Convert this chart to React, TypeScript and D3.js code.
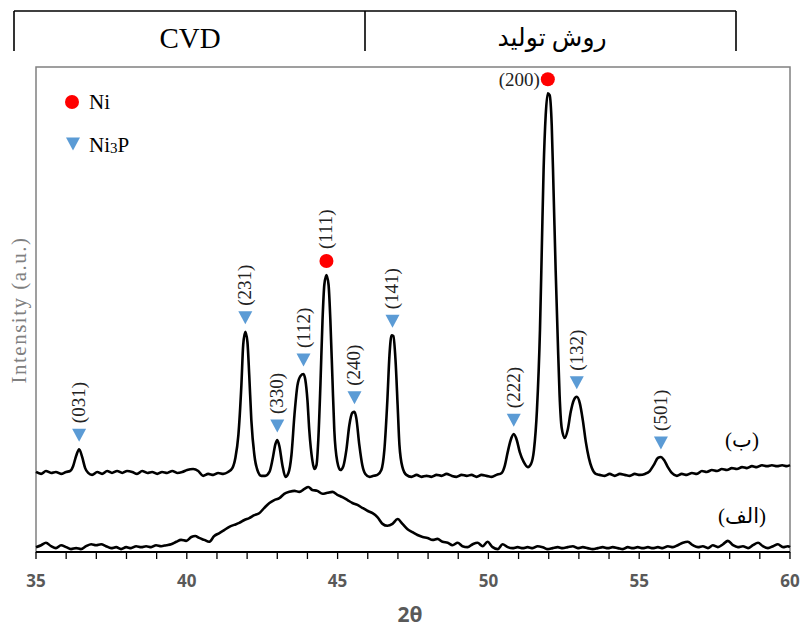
import { useEffect, useRef } from "react";
import * as d3 from "d3";

// sample (ب): 2θ positions and intensity (a.u.)
const thetaB = [35.0, 35.17, 35.33, 35.5, 35.66, 35.83, 36.0, 36.13, 36.23, 36.33, 36.43, 36.53, 36.63, 36.73, 36.86, 37.03, 37.19, 37.36, 37.52, 37.69, 37.86, 38.02, 38.19, 38.35, 38.52, 38.69, 38.85, 39.02, 39.18, 39.35, 39.52, 39.68, 39.85, 40.01, 40.21, 40.38, 40.54, 40.71, 40.88, 41.04, 41.21, 41.37, 41.51, 41.61, 41.71, 41.81, 41.87, 41.94, 42.01, 42.07, 42.14, 42.24, 42.34, 42.47, 42.6, 42.74, 42.84, 42.94, 43.0, 43.07, 43.17, 43.27, 43.37, 43.47, 43.57, 43.67, 43.77, 43.87, 43.93, 44.0, 44.06, 44.16, 44.23, 44.3, 44.36, 44.43, 44.5, 44.56, 44.63, 44.7, 44.76, 44.83, 44.89, 44.99, 45.09, 45.19, 45.29, 45.39, 45.49, 45.56, 45.62, 45.72, 45.82, 45.92, 46.06, 46.19, 46.32, 46.45, 46.55, 46.65, 46.72, 46.79, 46.85, 46.92, 46.99, 47.05, 47.15, 47.28, 47.45, 47.62, 47.78, 47.95, 48.11, 48.28, 48.45, 48.61, 48.78, 48.94, 49.11, 49.28, 49.44, 49.61, 49.77, 49.94, 50.11, 50.27, 50.44, 50.54, 50.64, 50.74, 50.84, 50.94, 51.04, 51.17, 51.31, 51.41, 51.51, 51.61, 51.71, 51.77, 51.83, 51.9, 51.97, 52.03, 52.1, 52.16, 52.23, 52.3, 52.36, 52.43, 52.53, 52.63, 52.73, 52.83, 52.93, 53.03, 53.13, 53.23, 53.33, 53.43, 53.56, 53.69, 53.86, 54.02, 54.19, 54.36, 54.52, 54.69, 54.85, 55.02, 55.19, 55.35, 55.48, 55.62, 55.72, 55.82, 55.95, 56.08, 56.25, 56.41, 56.58, 56.75, 56.91, 57.08, 57.24, 57.41, 57.58, 57.74, 57.91, 58.07, 58.24, 58.41, 58.57, 58.74, 58.9, 59.07, 59.24, 59.4, 59.57, 59.74, 59.9, 60.0];
const intensityB = [165, 161, 167, 163, 165, 161, 165, 167, 177, 198, 212, 196, 173, 163, 159, 165, 161, 167, 163, 167, 163, 167, 165, 161, 167, 163, 165, 161, 165, 163, 167, 163, 165, 169, 171, 167, 157, 161, 159, 163, 161, 165, 173, 194, 241, 344, 427, 454, 433, 365, 272, 200, 169, 157, 157, 165, 190, 223, 231, 218, 179, 155, 163, 200, 283, 344, 363, 367, 355, 313, 252, 190, 171, 179, 231, 344, 478, 551, 571, 551, 478, 355, 252, 186, 169, 177, 210, 262, 287, 289, 276, 221, 179, 161, 155, 157, 159, 169, 210, 313, 406, 447, 445, 396, 303, 221, 175, 159, 155, 159, 155, 157, 155, 159, 157, 161, 157, 155, 159, 157, 159, 155, 159, 157, 155, 159, 163, 177, 206, 231, 243, 231, 206, 186, 175, 181, 210, 293, 458, 623, 788, 901, 946, 942, 880, 746, 581, 437, 324, 256, 235, 252, 289, 313, 320, 307, 272, 227, 194, 173, 161, 159, 157, 161, 157, 161, 159, 157, 161, 159, 161, 167, 179, 194, 196, 190, 175, 163, 157, 161, 159, 163, 161, 167, 165, 169, 167, 171, 169, 173, 171, 175, 173, 177, 175, 179, 177, 179, 177, 179, 177, 179];

// sample (الف)
const thetaA = [35.0, 35.17, 35.33, 35.5, 35.66, 35.83, 36.0, 36.16, 36.33, 36.49, 36.66, 36.83, 36.99, 37.16, 37.32, 37.49, 37.66, 37.82, 37.99, 38.15, 38.32, 38.49, 38.65, 38.82, 38.98, 39.15, 39.32, 39.48, 39.65, 39.81, 39.98, 40.15, 40.28, 40.41, 40.58, 40.74, 40.91, 41.08, 41.24, 41.41, 41.57, 41.74, 41.91, 42.07, 42.24, 42.4, 42.57, 42.74, 42.9, 43.07, 43.23, 43.4, 43.57, 43.73, 43.9, 44.03, 44.16, 44.33, 44.5, 44.66, 44.83, 44.99, 45.16, 45.33, 45.49, 45.66, 45.82, 45.99, 46.16, 46.32, 46.49, 46.65, 46.82, 46.99, 47.15, 47.32, 47.48, 47.65, 47.82, 47.98, 48.15, 48.31, 48.48, 48.65, 48.81, 48.98, 49.14, 49.31, 49.48, 49.64, 49.81, 49.97, 50.14, 50.31, 50.47, 50.64, 50.8, 50.97, 51.14, 51.3, 51.47, 51.63, 51.8, 51.97, 52.13, 52.3, 52.46, 52.63, 52.8, 52.96, 53.13, 53.29, 53.46, 53.63, 53.79, 53.96, 54.12, 54.29, 54.46, 54.62, 54.79, 54.95, 55.12, 55.29, 55.45, 55.62, 55.78, 55.95, 56.12, 56.28, 56.45, 56.61, 56.78, 56.95, 57.11, 57.28, 57.44, 57.61, 57.78, 57.94, 58.11, 58.27, 58.44, 58.61, 58.77, 58.94, 59.1, 59.27, 59.44, 59.6, 59.77, 59.93, 60.0];
const intensityA = [10, 14, 19, 12, 8, 14, 10, 6, 8, 6, 12, 16, 14, 16, 12, 8, 10, 6, 10, 8, 12, 10, 12, 10, 14, 12, 14, 16, 21, 25, 23, 31, 33, 29, 25, 21, 33, 39, 45, 52, 56, 60, 66, 70, 76, 80, 91, 101, 107, 111, 120, 124, 126, 124, 130, 134, 128, 126, 120, 122, 124, 118, 113, 107, 101, 97, 91, 85, 80, 72, 58, 54, 58, 68, 58, 47, 41, 35, 31, 29, 25, 27, 21, 19, 14, 19, 12, 10, 16, 19, 12, 21, 10, 6, 16, 10, 8, 10, 8, 10, 8, 12, 10, 6, 8, 10, 8, 10, 12, 8, 10, 8, 6, 8, 10, 8, 10, 8, 6, 10, 8, 10, 8, 10, 8, 10, 8, 12, 10, 14, 19, 21, 14, 10, 12, 8, 14, 10, 16, 23, 14, 10, 12, 8, 14, 19, 12, 8, 12, 16, 10, 12, 10];

// indexed reflections on sample (ب)
const peakLabels = ["(031)", "(231)", "(330)", "(112)", "(111)", "(240)", "(141)", "(222)", "(200)", "(132)", "(501)"];
const peakTheta = [36.43, 41.94, 43.0, 43.87, 44.63, 45.56, 46.82, 50.84, 51.97, 52.93, 55.72];
const peakPhase = ["Ni3P", "Ni3P", "Ni3P", "Ni3P", "Ni", "Ni3P", "Ni3P", "Ni3P", "Ni", "Ni3P", "Ni3P"];

const xTicks = d3.range(35, 61, 1);
const xLabels = [35, 40, 45, 50, 55, 60];

const serif = "'Liberation Serif', 'Times New Roman', 'DejaVu Sans', serif";

export default function App() {
  const ref = useRef<SVGSVGElement>(null);

  useEffect(() => {
    document.body.style.margin = "0";
    const svg = d3.select(ref.current);
    svg.selectAll("*").remove();

    const left = 36, right = 790, top = 67, bottom = 552;
    const x = d3.scaleLinear().domain([35, 60]).range([left, right]);
    const y = d3.scaleLinear().domain([0, 1000]).range([bottom, top]);

    // header table
    const head = svg.append("g").attr("stroke", "#000").attr("stroke-width", 1.6);
    head.append("line").attr("x1", 14).attr("x2", 736).attr("y1", 11).attr("y2", 11);
    [14, 365, 736].forEach(px => {
      head.append("line").attr("x1", px).attr("x2", px).attr("y1", 11).attr("y2", 51);
    });
    svg.append("text").attr("x", 190).attr("y", 48).attr("text-anchor", "middle")
      .attr("font-family", serif).attr("font-size", 29).text("CVD");
    svg.append("text").attr("x", 552).attr("y", 46).attr("text-anchor", "middle")
      .attr("font-family", serif).attr("font-size", 25).attr("direction", "rtl").text("روش تولید");

    // plot frame
    svg.append("rect").attr("x", left).attr("y", top).attr("width", right - left).attr("height", bottom - top)
      .attr("fill", "none").attr("stroke", "#808080").attr("stroke-width", 1.5);

    const line = d3.line<[number, number]>()
      .x(d => x(d[0]))
      .y(d => y(d[1]))
      .curve(d3.curveMonotoneX);

    const seriesB = thetaB.map((t, i) => [t, intensityB[i]] as [number, number]);
    const seriesA = thetaA.map((t, i) => [t, intensityA[i]] as [number, number]);

    [seriesB, seriesA].forEach(s => {
      svg.append("path").attr("d", line(s)).attr("fill", "none")
        .attr("stroke", "#000").attr("stroke-width", 2.6).attr("stroke-linejoin", "round");
    });

    // x axis
    svg.append("line").attr("x1", left).attr("x2", right).attr("y1", bottom).attr("y2", bottom)
      .attr("stroke", "#000").attr("stroke-width", 2);
    svg.append("g").selectAll("line").data(xTicks).join("line")
      .attr("x1", d => x(d)).attr("x2", d => x(d))
      .attr("y1", bottom).attr("y2", bottom + 7)
      .attr("stroke", "#000").attr("stroke-width", 1.3);
    svg.append("g").selectAll("text").data(xLabels).join("text")
      .attr("x", d => x(d)).attr("y", 587).attr("text-anchor", "middle")
      .attr("font-family", "'Open Sans', sans-serif").attr("font-weight", 700)
      .attr("font-size", 17).attr("fill", "#595959").text(d => d);
    svg.append("text").attr("x", 410).attr("y", 622).attr("text-anchor", "middle")
      .attr("font-family", "'Open Sans', sans-serif").attr("font-weight", 700)
      .attr("font-size", 21).attr("fill", "#595959").text("2θ");

    // y axis title
    svg.append("text").attr("transform", "translate(26, 310) rotate(-90)")
      .attr("text-anchor", "middle").attr("font-family", serif).attr("font-size", 21)
      .attr("letter-spacing", 1.5).attr("fill", "#808080").text("Intensity (a.u.)");

    // peak markers: sit a fixed gap above the local maximum of the curve
    const peakY = (t: number) =>
      d3.max(seriesB.filter(d => Math.abs(d[0] - t) < 0.12), d => d[1]) ?? 0;
    const tri = "M-7,-6.5L7,-6.5L0,6.5Z";

    const marks = svg.append("g");
    peakTheta.forEach((t, i) => {
      const px = x(t);
      const py = y(peakY(t)) - 14;
      if (peakPhase[i] === "Ni") {
        marks.append("circle").attr("cx", px).attr("cy", py).attr("r", 7).attr("fill", "#ff0000");
      } else {
        marks.append("path").attr("d", tri).attr("transform", `translate(${px},${py})`).attr("fill", "#5b9bd5");
      }
      if (peakLabels[i] === "(200)") {
        marks.append("text").attr("x", px - 8).attr("y", py + 7).attr("text-anchor", "end")
          .attr("font-family", serif).attr("font-size", 19).attr("fill", "#222").text(peakLabels[i]);
      } else {
        marks.append("text").attr("transform", `translate(${px + 6},${py - 12}) rotate(-90)`)
          .attr("font-family", serif).attr("font-size", 19).attr("fill", "#222").text(peakLabels[i]);
      }
    });

    // sample labels
    svg.append("text").attr("x", 742).attr("y", 447).attr("text-anchor", "middle")
      .attr("font-family", serif).attr("font-size", 21).text("(ب)");
    svg.append("text").attr("x", 742).attr("y", 523).attr("text-anchor", "middle")
      .attr("font-family", serif).attr("font-size", 21).text("(الف)");

    // legend
    const legend = svg.append("g").attr("font-family", serif).attr("font-size", 21);
    legend.append("circle").attr("cx", 72).attr("cy", 102).attr("r", 7).attr("fill", "#ff0000");
    legend.append("text").attr("x", 89).attr("y", 109).text("Ni");
    legend.append("path").attr("d", tri).attr("transform", "translate(73,144)").attr("fill", "#5b9bd5");
    const t2 = legend.append("text").attr("x", 89).attr("y", 152);
    t2.append("tspan").text("Ni");
    t2.append("tspan").attr("font-size", 15).attr("dy", 1).text("3");
    t2.append("tspan").attr("dy", -1).text("P");
  }, []);

  return (
    <div>
      <svg ref={ref} width={802} height={628} style={{ display: "block" }} />
    </div>
  );
}
